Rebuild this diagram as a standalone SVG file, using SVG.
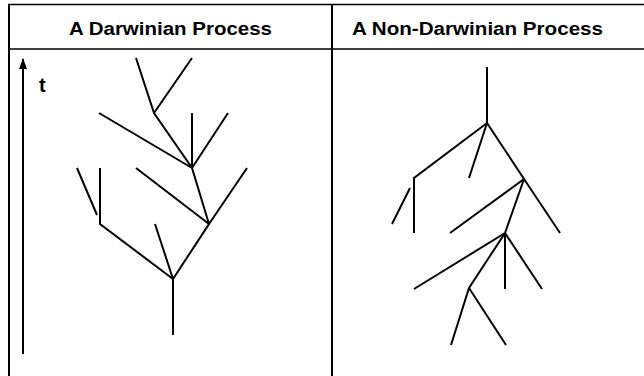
<svg xmlns="http://www.w3.org/2000/svg" width="644" height="376" viewBox="0 0 644 376">
  <style>
    .grid { stroke: #000; fill: none; }
    .br { stroke: #000; stroke-width: 2; fill: none; stroke-linecap: butt; }
    .hd { font-family: "Liberation Sans", Arial, sans-serif; font-weight: bold; font-size: 18px; fill: #000; }
  </style>
  <defs>
    <marker id="ah" markerWidth="11" markerHeight="8" refX="10" refY="4" orient="auto" markerUnits="userSpaceOnUse" viewBox="0 0 11 8">
      <path d="M11,4 L0,0 L0,8 Z" fill="#000"/>
    </marker>
  </defs>
  <rect width="644" height="376" fill="#fff"/>
  <g id="table">
    <line class="grid" x1="8" y1="4.5" x2="644" y2="4.5" stroke-width="1.3"/>
    <line class="grid" x1="9" y1="4" x2="9" y2="376" stroke-width="2"/>
    <line class="grid" x1="332" y1="4" x2="332" y2="376" stroke-width="2"/>
    <line class="grid" x1="8" y1="49" x2="644" y2="49" stroke-width="1.6"/>
  </g>
  <g id="header-left">
    <text class="hd" x="69" y="35" textLength="203" lengthAdjust="spacingAndGlyphs">A Darwinian Process</text>
  </g>
  <g id="header-right">
    <text class="hd" x="352" y="35" textLength="251" lengthAdjust="spacingAndGlyphs">A Non-Darwinian Process</text>
  </g>
  <g id="time-axis">
    <line class="br" x1="23" y1="354" x2="23" y2="59" marker-end="url(#ah)"/>
    <text class="hd" x="39" y="92" style="font-size:20px">t</text>
  </g>
  <g id="darwinian-tree">
    <path class="br" d="M173,335 L173,279 L209,224 L192,168 L154,113 L136,58
      M154,113 L192,58
      M99,113 L192,168
      M192,113 L192,168
      M228,113 L192,168
      M136,168 L209,224
      M247,168 L209,224
      M155,224 L173,279
      M173,279 L100,224 L100,168
      M77,168 L97,215"/>
  </g>
  <g id="non-darwinian-tree">
    <path class="br" d="M487,67 L487,123 L524,179 L505,233 L469,288 L451,345
      M487,123 L414,178 L414,233
      M487,123 L469,178
      M410,188 L392,224
      M524,179 L450,233
      M524,179 L560,233
      M505,233 L414,289
      M505,233 L505,289
      M505,233 L542,289
      M469,288 L506,345"/>
  </g>
</svg>
